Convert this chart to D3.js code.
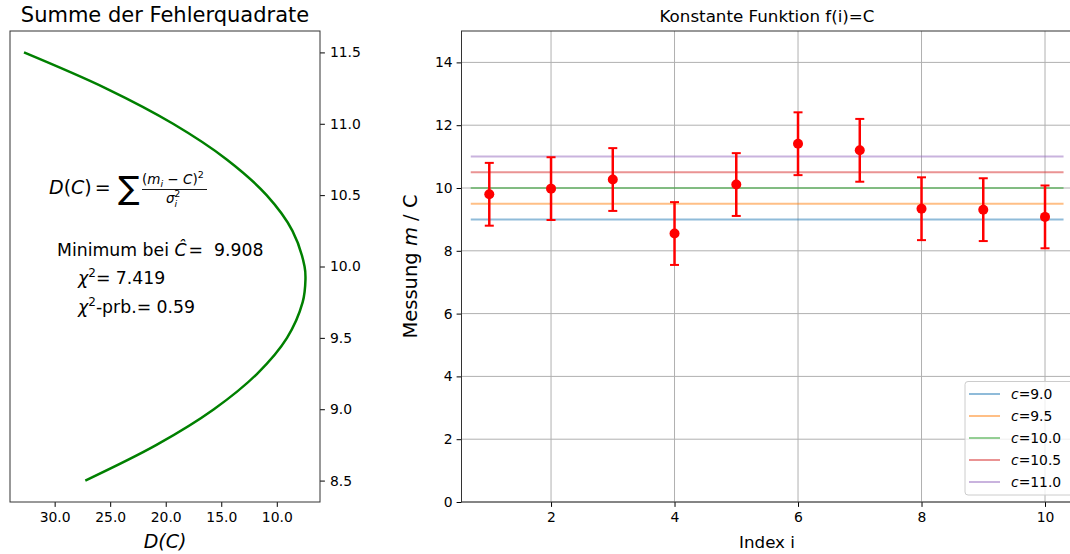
<!DOCTYPE html>
<html>
<head>
<meta charset="utf-8">
<script src="https://cdn.jsdelivr.net/npm/d3@7"></script>
<style>
  body { margin: 0; background: #fff; }
  svg text { font-family: "DejaVu Sans", sans-serif; fill: #000; }
</style>
</head>
<body>
<svg id="chart" width="1070" height="554"></svg>
<script>
// measurements (sigma = 1 for all)
const index = [1, 2, 3, 4, 5, 6, 7, 8, 9, 10];
const measured = [9.80, 9.98, 10.27, 8.55, 10.11, 11.41, 11.20, 9.34, 9.31, 9.08];
const sigma = [1, 1, 1, 1, 1, 1, 1, 1, 1, 1];

// constant hypotheses
const constants = [9.0, 9.5, 10.0, 10.5, 11.0];
const constColors = ['#1f77b4', '#ff7f0e', '#2ca02c', '#d62728', '#9467bd'];

// sum of squares curve
const curveC = [8.5, 8.75, 9.0, 9.25, 9.5, 9.75, 9.908, 10.0, 10.25, 10.5, 10.75, 11.0, 11.25, 11.5];
const curveD = [27.24, 20.83, 15.66, 11.75, 9.08, 7.67, 7.42, 7.50, 8.59, 10.92, 14.51, 19.34, 25.43, 32.76];

const leftXTicks = [30, 25, 20, 15, 10];
const leftYTicks = [8.5, 9.0, 9.5, 10.0, 10.5, 11.0, 11.5];
const rightXTicks = [2, 4, 6, 8, 10];
const rightYTicks = [0, 2, 4, 6, 8, 10, 12, 14];

const svg = d3.select('svg#chart');
const TICK = 4.9, PAD = 5.5;

// ---------- left panel ----------
const lx = d3.scaleLinear().domain([34.02, 6.11]).range([10, 320]);
const ly = d3.scaleLinear().domain([8.35, 11.65]).range([502, 31]);

const left = svg.append('g');

left.append('g')
  .attr('transform', 'translate(0,502)')
  .call(d3.axisBottom(lx).tickValues(leftXTicks).tickFormat(d3.format('.1f')).tickSize(TICK).tickPadding(PAD))
  .call(g => g.select('.domain').remove())
  .call(g => g.selectAll('text').attr('font-size', 13.9).attr('fill', '#222'));

left.append('g')
  .attr('transform', 'translate(320,0)')
  .call(d3.axisRight(ly).tickValues(leftYTicks).tickFormat(d3.format('.1f')).tickSize(TICK).tickPadding(5))
  .call(g => g.select('.domain').remove())
  .call(g => g.selectAll('text').attr('font-size', 13.9).attr('fill', '#222'));

left.append('path')
  .datum(curveC.map((c, i) => [curveD[i], c]))
  .attr('fill', 'none')
  .attr('stroke', 'green')
  .attr('stroke-width', 2.5)
  .attr('d', d3.line().x(d => lx(d[0])).y(d => ly(d[1])).curve(d3.curveCatmullRom));

left.append('rect')
  .attr('x', 10).attr('y', 31).attr('width', 310).attr('height', 471)
  .attr('fill', 'none').attr('stroke', '#333').attr('stroke-width', 1);

left.append('text')
  .attr('x', 165).attr('y', 22)
  .attr('text-anchor', 'middle').attr('font-size', 21).attr('fill', '#222')
  .text('Summe der Fehlerquadrate');

left.append('text')
  .attr('x', 165).attr('y', 548)
  .attr('text-anchor', 'middle').attr('font-size', 19).attr('font-style', 'italic')
  .text('D(C)');

// formula D(C) = sum (m_i - C)^2 / sigma_i^2
const f = left.append('g');
f.append('text').attr('x', 49).attr('y', 193.5).attr('font-size', 19)
  .html('<tspan font-style="italic">D</tspan>(<tspan font-style="italic">C</tspan>)<tspan dx="3">=</tspan>');
f.append('text').attr('x', 118).attr('y', 199).attr('font-size', 32).text('∑');
f.append('text').attr('x', 142).attr('y', 184).attr('font-size', 13.5)
  .attr('xml:space', 'preserve')
  .html('(<tspan font-style="italic">m</tspan><tspan font-style="italic" font-size="9.5" dy="3">i</tspan><tspan dy="-3"> − </tspan><tspan font-style="italic">C</tspan>)<tspan font-size="9.5" dy="-6">2</tspan>');
f.append('line').attr('x1', 142).attr('x2', 207).attr('y1', 189.5).attr('y2', 189.5)
  .attr('stroke', '#000').attr('stroke-width', 0.9);
f.append('text').attr('x', 166).attr('y', 203).attr('font-size', 13.5)
  .html('<tspan font-style="italic">σ</tspan><tspan font-style="italic" font-size="9.5" dy="4">i</tspan><tspan font-size="9.5" dx="-3" dy="-10">2</tspan>');

left.append('text').attr('x', 57).attr('y', 256).attr('font-size', 17.3)
  .attr('xml:space', 'preserve')
  .html('Minimum bei <tspan font-style="italic">Ĉ</tspan><tspan dx="2">=</tspan>  9.908');
left.append('text').attr('x', 78).attr('y', 283.5).attr('font-size', 17.3)
  .html('<tspan font-style="italic">χ</tspan><tspan font-size="12" dy="-7">2</tspan><tspan dy="7">= 7.419</tspan>');
left.append('text').attr('x', 78).attr('y', 313).attr('font-size', 17.3)
  .html('<tspan font-style="italic">χ</tspan><tspan font-size="12" dy="-7">2</tspan><tspan dy="7">-prb.= 0.59</tspan>');

// ---------- right panel ----------
const rx = d3.scaleLinear().domain([0.55, 10.45]).range([461.5, 1072.8]);
const ry = d3.scaleLinear().domain([0, 15]).range([502, 31]);

const right = svg.append('g');

// grid
right.append('g').selectAll('line').data(rightXTicks).join('line')
  .attr('x1', d => rx(d)).attr('x2', d => rx(d)).attr('y1', 31).attr('y2', 502)
  .attr('stroke', '#b0b0b0').attr('stroke-width', 1);
right.append('g').selectAll('line').data(rightYTicks).join('line')
  .attr('x1', 461.5).attr('x2', 1072.8).attr('y1', d => ry(d)).attr('y2', d => ry(d))
  .attr('stroke', '#b0b0b0').attr('stroke-width', 1);

right.append('g')
  .attr('transform', 'translate(0,502)')
  .call(d3.axisBottom(rx).tickValues(rightXTicks).tickSize(TICK).tickPadding(PAD))
  .call(g => g.select('.domain').remove())
  .call(g => g.selectAll('text').attr('font-size', 13.9).attr('fill', '#222'));

right.append('g')
  .attr('transform', 'translate(461.5,0)')
  .call(d3.axisLeft(ry).tickValues(rightYTicks).tickSize(TICK).tickPadding(4))
  .call(g => g.select('.domain').remove())
  .call(g => g.selectAll('text').attr('font-size', 13.9).attr('fill', '#222'));

// constant lines
right.append('g').selectAll('line').data(constants).join('line')
  .attr('x1', rx(0.7)).attr('x2', rx(10.3))
  .attr('y1', d => ry(d)).attr('y2', d => ry(d))
  .attr('stroke', (d, i) => constColors[i]).attr('stroke-opacity', 0.5).attr('stroke-width', 2);

// error bars
const pts = index.map((x, i) => ({ x, y: measured[i], s: sigma[i] }));
const eb = right.append('g').attr('stroke', 'red').attr('fill', 'red');
eb.selectAll('line.bar').data(pts).join('line').attr('class', 'bar')
  .attr('x1', d => rx(d.x)).attr('x2', d => rx(d.x))
  .attr('y1', d => ry(d.y - d.s)).attr('y2', d => ry(d.y + d.s))
  .attr('stroke-width', 2.5);
eb.selectAll('line.capt').data(pts).join('line').attr('class', 'capt')
  .attr('x1', d => rx(d.x) - 4.5).attr('x2', d => rx(d.x) + 4.5)
  .attr('y1', d => ry(d.y + d.s)).attr('y2', d => ry(d.y + d.s))
  .attr('stroke-width', 2);
eb.selectAll('line.capb').data(pts).join('line').attr('class', 'capb')
  .attr('x1', d => rx(d.x) - 4.5).attr('x2', d => rx(d.x) + 4.5)
  .attr('y1', d => ry(d.y - d.s)).attr('y2', d => ry(d.y - d.s))
  .attr('stroke-width', 2);
eb.selectAll('circle').data(pts).join('circle')
  .attr('cx', d => rx(d.x)).attr('cy', d => ry(d.y)).attr('r', 5)
  .attr('stroke', 'none');

right.append('rect')
  .attr('x', 461.5).attr('y', 31).attr('width', 611.3).attr('height', 471)
  .attr('fill', 'none').attr('stroke', '#333').attr('stroke-width', 1);

right.append('text')
  .attr('x', 767).attr('y', 22)
  .attr('text-anchor', 'middle').attr('font-size', 16.7).attr('fill', '#222')
  .text('Konstante Funktion f(i)=C');

right.append('text')
  .attr('x', 767).attr('y', 548)
  .attr('text-anchor', 'middle').attr('font-size', 16.7)
  .text('Index i');

right.append('text')
  .attr('transform', 'translate(417,266.5) rotate(-90)')
  .attr('text-anchor', 'middle').attr('font-size', 19.5)
  .html('Messung <tspan font-style="italic">m</tspan> / C');

// legend
const lg = right.append('g');
lg.append('rect')
  .attr('x', 965).attr('y', 381.5).attr('width', 115).attr('height', 113.5).attr('rx', 3)
  .attr('fill', '#fff').attr('fill-opacity', 0.8).attr('stroke', '#ccc');
const rows = lg.selectAll('g.row').data(constants).join('g').attr('class', 'row')
  .attr('transform', (d, i) => `translate(969,${394 + i * 22})`);
rows.append('line').attr('x1', 0).attr('x2', 31)
  .attr('stroke', (d, i) => constColors[i]).attr('stroke-opacity', 0.5).attr('stroke-width', 2);
rows.append('text').attr('x', 42).attr('y', 5).attr('font-size', 13.9).attr('fill', '#222')
  .html(d => `<tspan font-style="italic">c</tspan>=${d.toFixed(1)}`);
</script>
</body>
</html>
